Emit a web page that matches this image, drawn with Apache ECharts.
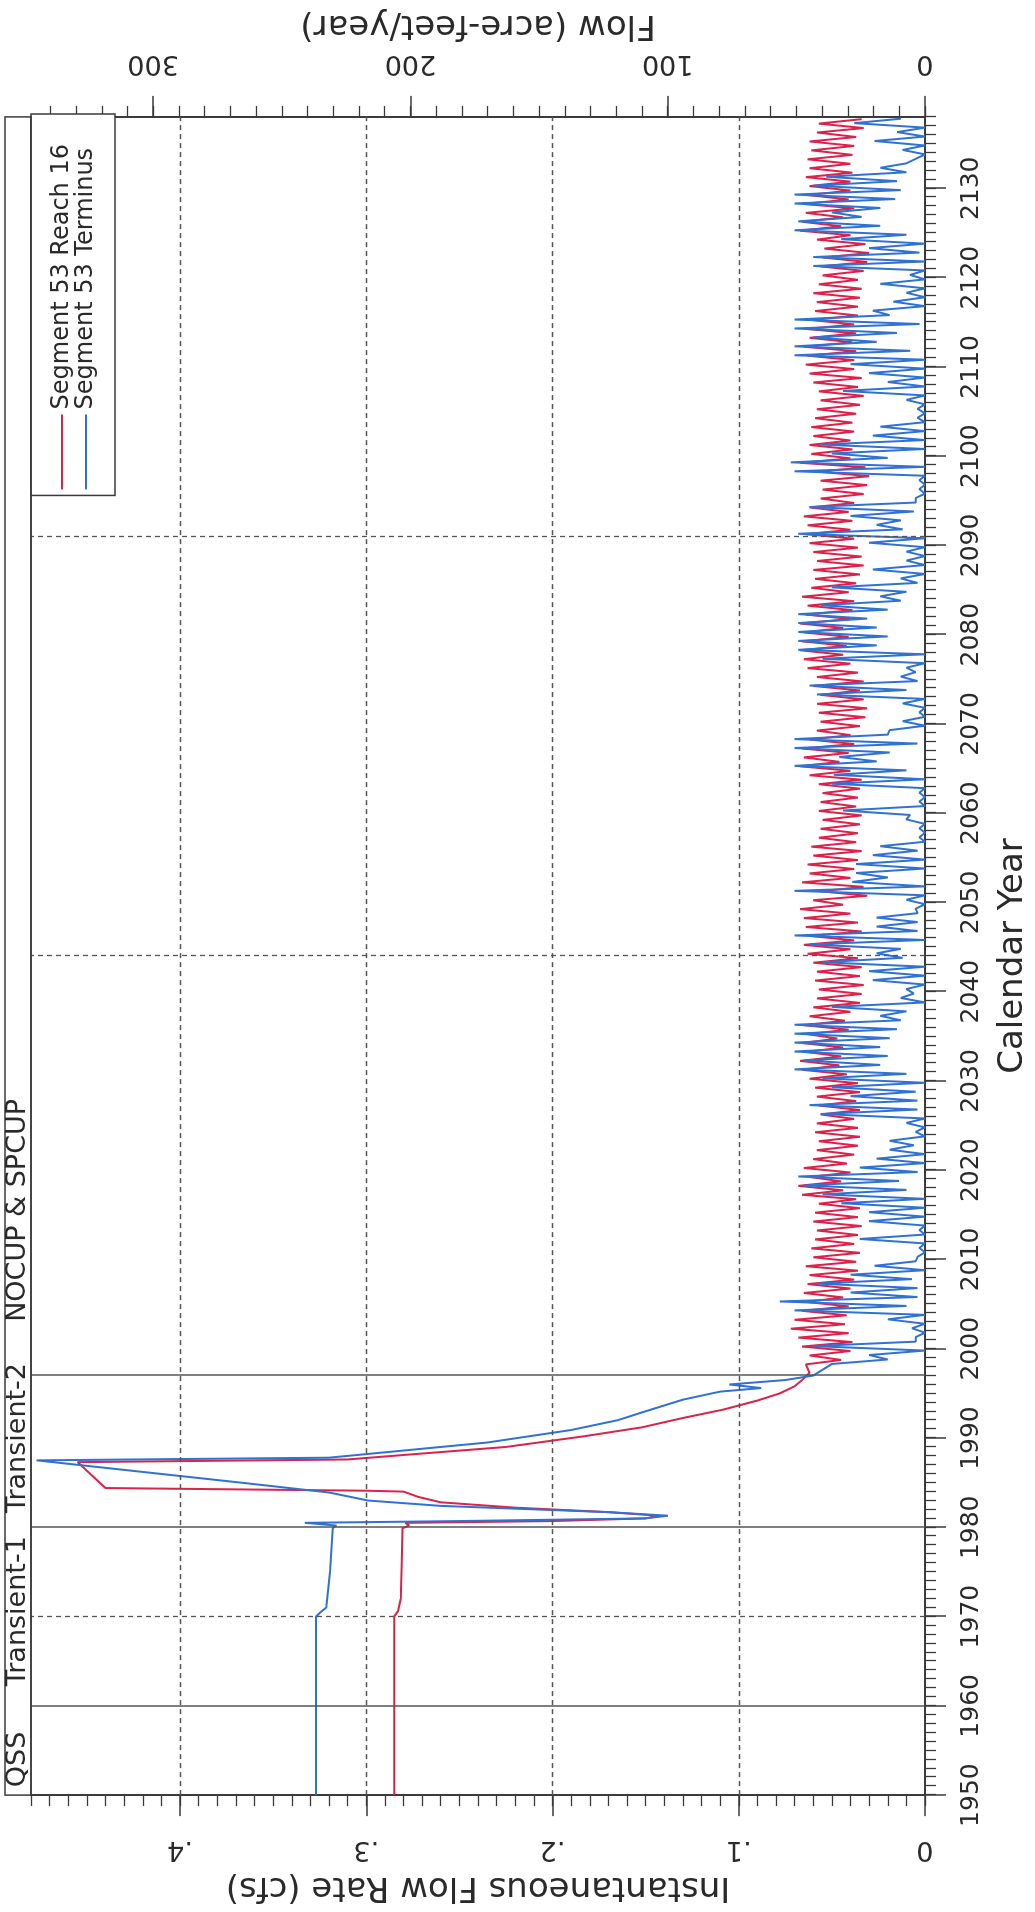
<!DOCTYPE html>
<html><head><meta charset="utf-8">
<script src="https://cdn.jsdelivr.net/npm/echarts@6/dist/echarts.min.js"></script>
<style>
html,body{margin:0;padding:0;background:#fff;width:1035px;height:1912px;overflow:hidden}
#chart{position:absolute;left:0;top:0;width:1912px;height:1035px;transform-origin:0 0;transform:translate(0px,1912px) rotate(-90deg);background:#fff}
</style></head><body><div id="chart"></div>
<script>
// ---- tick labels ----
const yearTicks = [1950,1960,1970,1980,1990,2000,2010,2020,2030,2040,2050,2060,2070,2080,2090,2100,2110,2120,2130];
const cfsTicks = [0,0.1,0.2,0.3,0.4];
const afyTicks = [0,100,200,300];
const CFS_TO_AFY = 723.97;
const YEAR_MIN = 1950, YEAR_MAX = 2138, CFS_MAX = 0.48;
// ---- period markers ----
const periodLines = [1960,1980,1997];
const dashedYears = [1970,2044,2091];
const periodLabels = ['QSS','Transient-1','Transient-2','NOCUP & SPCUP'];
const periodLabelYears = [1954.0,1970.6,1990.0,2015.5];
// ---- series: early (steady + transient) part, [year, cfs] ----
const redEarly = [[1950,.285],[1970,.285],[1970.6,.283],[1972,.2815],[1976,.281],[1979.9,.2805],[1980.2,.277],[1980.5,.279],[1980.7,.20],[1981.0,.15],[1981.3,.143],[1981.7,.17],[1982.2,.22],[1982.8,.26],[1983.4,.272],[1984.0,.28],[1984.1,.30],[1984.4,.44],[1987.3,.455],[1987.6,.31],[1988.1,.28],[1989,.225],[1990.2,.183],[1991.2,.152],[1992.2,.131],[1993.2,.108],[1994.2,.09],[1995,.078],[1995.8,.07],[1996.5,.066],[1997.3,.062]];
const blueEarly = [[1950,.327],[1970,.327],[1970.4,.325],[1971,.3215],[1975,.3195],[1979.9,.318],[1980.2,.316],[1980.5,.333],[1980.7,.25],[1981.0,.15],[1981.3,.138],[1981.7,.17],[1982.4,.26],[1983.0,.299],[1983.9,.32],[1985.0,.367],[1987.5,.477],[1987.8,.32],[1988.2,.30],[1989.5,.235],[1990.9,.19],[1992,.165],[1993,.15],[1994.3,.13],[1995.2,.11],[1995.6,.088],[1996.0,.105],[1996.5,.075],[1997.0,.06]];
// ---- series: yearly high / low from 1998 on ----
const oscStartYear = 1998;
const redHigh = [.064,.062,.066,.068,.072,.070,.066,.064,.065,.063,.062,.064,.060,.061,.059,.058,.060,.059,.057,.066,.068,.062,.065,.060,.058,.057,.059,.058,.056,.057,
.058,.059,.062,.066,.067,.064,.066,.063,.065,.062,.060,.058,.057,.059,.058,.060,.063,.065,.062,.064,.065,.067,.060,.056,.066,.062,.063,.060,.061,.057,
.056,.055,.057,.056,.055,.057,.062,.067,.065,.066,.062,.058,.056,.057,.058,.056,.060,.058,.063,.065,.067,.066,.065,.067,.064,.063,.066,.061,.059,.060,
.058,.060,.062,.064,.063,.065,.062,.056,.055,.056,.057,.067,.061,.062,.060,.061,.059,.058,.056,.057,.060,.062,.064,.063,.065,.062,.064,.061,.059,.058,
.060,.057,.055,.056,.055,.054,.058,.067,.066,.064,.065,.063,.062,.064,.062,.063,.061,.062,.058,.057];
const redLow = [.045,.040,.039,.041,.043,.042,.041,.044,.040,.038,.036,.037,.035,.038,.036,.034,.036,.035,.037,.044,.045,.040,.042,.038,.036,.035,.036,.038,.035,.037,
.035,.036,.042,.046,.045,.044,.047,.041,.043,.040,.035,.034,.033,.035,.034,.036,.040,.038,.034,.036,.040,.044,.031,.033,.040,.038,.036,.034,.037,.036,
.035,.034,.037,.036,.035,.034,.040,.046,.041,.038,.040,.035,.032,.031,.033,.035,.033,.036,.040,.044,.042,.041,.044,.040,.039,.038,.041,.037,.035,.033,
.034,.036,.038,.040,.039,.041,.038,.033,.031,.030,.032,.040,.039,.040,.038,.039,.037,.035,.033,.036,.034,.038,.038,.037,.039,.037,.038,.036,.036,.035,
.034,.036,.033,.031,.030,.032,.040,.045,.044,.038,.041,.040,.040,.039,.040,.039,.038,.037,.033,.034];
const blueHigh = [.050,.030,.060,.005,.007,.020,.070,.078,.040,.058,.040,.027,.004,.003,.035,.003,.030,.030,.045,.055,.065,.068,.035,.026,.019,.019,.005,.010,.056,.062,
.040,.050,.055,.070,.065,.070,.070,.070,.070,.024,.050,.013,.010,.028,.030,.055,.026,.062,.070,.026,.026,.005,.010,.070,.039,.037,.037,.028,.024,.003,
.003,.010,.044,.003,.003,.050,.049,.070,.046,.070,.070,.019,.012,.003,.012,.058,.062,.013,.010,.055,.068,.068,.068,.068,.068,.056,.024,.050,.013,.028,
.010,.010,.030,.068,.026,.040,.062,.005,.003,.003,.070,.072,.050,.056,.028,.024,.004,.004,.010,.044,.020,.030,.040,.070,.070,.060,.070,.070,.028,.017,
.010,.024,.008,.060,.060,.030,.045,.070,.068,.050,.070,.070,.060,.053,.024,.005,.012,.027,.015,.038];
const blueLow = [.020,.000,.005,.000,.000,.000,.010,.004,.004,.007,.000,.005,.000,.000,.000,.000,.000,.000,.000,.010,.014,.004,.000,.000,.006,.000,.000,.000,.004,.004,
.005,.000,.010,.024,.020,.024,.019,.015,.013,.010,.000,.006,.000,.000,.000,.012,.013,.000,.004,.004,.004,.000,.000,.000,.020,.000,.000,.004,.000,.000,
.000,.008,.000,.000,.000,.000,.010,.026,.019,.004,.020,.000,.000,.000,.000,.010,.004,.005,.000,.000,.026,.020,.026,.031,.020,.013,.010,.004,.000,.000,
.000,.000,.000,.012,.013,.006,.005,.000,.000,.000,.000,.020,.000,.000,.000,.000,.000,.000,.000,.000,.000,.000,.000,.008,.026,.015,.003,.019,.000,.000,
.000,.000,.000,.000,.003,.000,.010,.024,.034,.024,.016,.013,.015,.010,.010,.000,.000,.000,.000,.013];

const RED = '#dc2249', BLUE = '#2f72d2', AX = '#3a3a3a', TXT = '#2a2a2a';
function buildSeries(early, hi, lo, offHi, offLo) {
  const out = early.slice();
  for (let i = 0; i < hi.length; i++) {
    out.push([oscStartYear + i + offHi, hi[i]]);
    out.push([oscStartYear + i + offLo, lo[i]]);
  }
  return out;
}
const redData = buildSeries(redEarly, redHigh, redLow, 0.25, 0.75);
const blueData = buildSeries(blueEarly, blueHigh, blueLow, 0.3, 0.8);

const yearMinor = []; for (let y = YEAR_MIN; y <= YEAR_MAX; y++) yearMinor.push(y);
const cfsMinor = []; for (let k = 0; k <= 48; k++) cfsMinor.push(k / 100);
const afyMinor = []; for (let k = 0; k <= 340; k += 10) afyMinor.push(k);

const G = {left:115, right:114, top:31, bottom:109};
const numFont = {fontFamily:'DejaVu Sans', fontSize:27, color:TXT};
const nameFont = {fontFamily:'DejaVu Sans', fontSize:34, color:TXT};
const axLine = {show:true, lineStyle:{color:AX, width:1.5}};

const chart = echarts.init(document.getElementById('chart'), null, {width:1912, height:1035, renderer:'canvas'});
const markData = [];
periodLines.forEach(y => markData.push({xAxis:y, lineStyle:{type:'solid', color:'#555', width:1.5}}));
dashedYears.forEach(y => markData.push({xAxis:y, lineStyle:{type:[5,4], color:'#555', width:1.3}}));
cfsTicks.slice(1).forEach(v => markData.push({yAxis:v, lineStyle:{type:[5,4], color:'#555', width:1.3}}));

chart.setOption({
  animation:false,
  backgroundColor:'#fff',
  grid:{...G, show:true, borderColor:AX, borderWidth:1.5, backgroundColor:'transparent'},
  xAxis:[
    {type:'value', min:YEAR_MIN, max:YEAR_MAX, position:'bottom', axisLine:axLine,
     axisTick:{show:true, customValues:yearMinor, length:11, lineStyle:{color:AX, width:1.3}},
     axisLabel:{show:false}, splitLine:{show:false}},
    {type:'value', min:YEAR_MIN, max:YEAR_MAX, position:'bottom', axisLine:axLine,
     axisTick:{show:true, customValues:yearTicks, length:21, lineStyle:{color:AX, width:1.5}},
     axisLabel:{show:true, customValues:yearTicks, margin:34, ...numFont, fontSize:25, formatter:v=>String(v)},
     splitLine:{show:false},
     name:'Calendar Year', nameLocation:'middle', nameGap:71, nameTextStyle:nameFont}
  ],
  yAxis:[
    {type:'value', min:0, max:CFS_MAX, position:'left', axisLine:axLine,
     axisTick:{show:true, customValues:cfsMinor, length:11, lineStyle:{color:AX, width:1.3}},
     axisLabel:{show:false}, splitLine:{show:false}},
    {type:'value', min:0, max:CFS_MAX, position:'left', axisLine:axLine,
     axisTick:{show:true, customValues:cfsTicks, length:21, lineStyle:{color:AX, width:1.5}},
     axisLabel:{show:true, customValues:cfsTicks, rotate:90, margin:40, ...numFont,
       formatter:v=> v===0 ? '0' : '.' + Math.round(v*10)},
     splitLine:{show:false},
     name:'Instantaneous Flow Rate (cfs)', nameLocation:'middle', nameRotate:90, nameGap:72, nameTextStyle:nameFont},
    {type:'value', min:0, max:CFS_MAX*CFS_TO_AFY, position:'right', axisLine:axLine,
     axisTick:{show:true, customValues:afyMinor, length:11, lineStyle:{color:AX, width:1.3}},
     axisLabel:{show:false}, splitLine:{show:false}},
    {type:'value', min:0, max:CFS_MAX*CFS_TO_AFY, position:'right', axisLine:axLine,
     axisTick:{show:true, customValues:afyTicks, length:21, lineStyle:{color:AX, width:1.5}},
     axisLabel:{show:true, customValues:afyTicks, rotate:90, margin:40, ...numFont, formatter:v=>String(v)},
     splitLine:{show:false},
     name:'Flow (acre-feet/year)', nameLocation:'middle', nameRotate:90, nameGap:70, nameTextStyle:nameFont}
  ],
  legend:{
    data:['Segment 53 Reach 16','Segment 53 Terminus'],
    orient:'vertical', right:114, top:31,
    icon:'rect', itemWidth:75, itemHeight:2, itemGap:0,
    padding:[19,30,17,6],
    borderColor:AX, borderWidth:1.5, backgroundColor:'#fff',
    textStyle:{fontFamily:'DejaVu Sans', fontSize:24, color:TXT},
    selectedMode:false
  },
  series:[
    {name:'marks', type:'line', xAxisIndex:1, yAxisIndex:1, data:[], silent:true, z:1,
     markLine:{silent:true, symbol:['none','none'], label:{show:false}, animation:false, data:markData}},
    {name:'Segment 53 Reach 16', type:'line', xAxisIndex:1, yAxisIndex:1, data:redData,
     showSymbol:false, symbol:'none', lineStyle:{color:RED, width:2}, itemStyle:{color:RED}, z:3},
    {name:'Segment 53 Terminus', type:'line', xAxisIndex:1, yAxisIndex:1, data:blueData,
     showSymbol:false, symbol:'none', lineStyle:{color:BLUE, width:2}, itemStyle:{color:BLUE}, z:4}
  ]
});

// label strip above the plot area
const x0 = chart.convertToPixel({xAxisIndex:1}, YEAR_MIN);
const x1 = chart.convertToPixel({xAxisIndex:1}, YEAR_MAX);
const g = [{type:'rect', shape:{x:x0, y:5, width:x1-x0, height:G.top-5}, style:{fill:'none', stroke:AX, lineWidth:1.5}, z:10}];
periodLabels.forEach((t, i) => {
  g.push({type:'text', x:chart.convertToPixel({xAxisIndex:1}, periodLabelYears[i]), y:18,
    style:{text:t, font:'27px "DejaVu Sans"', fill:TXT, align:'center', verticalAlign:'middle'}, z:10});
});
chart.setOption({graphic:g});
</script></body></html>
